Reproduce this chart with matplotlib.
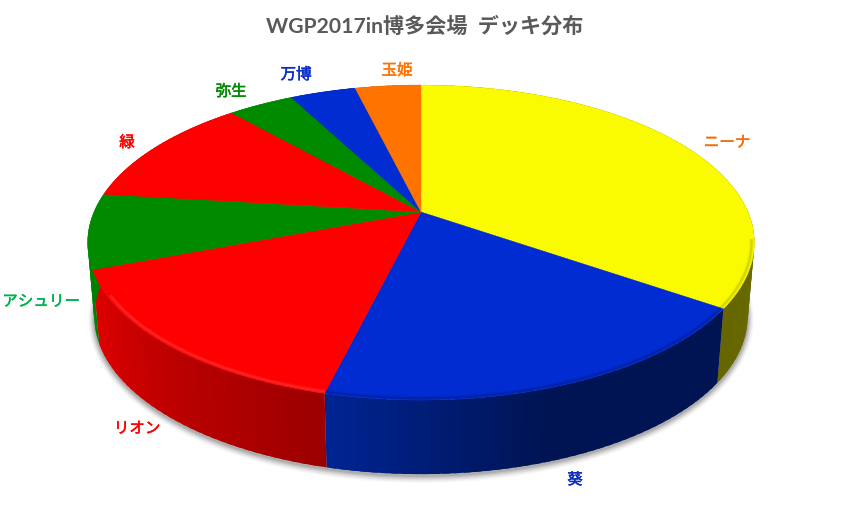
import numpy as np
import matplotlib
matplotlib.use("Agg")
import matplotlib.pyplot as plt
import matplotlib.patheffects as pe
from matplotlib.patches import Polygon

# --- data ---
labels = ["ニーナ", "葵", "リオン", "アシュリー", "緑", "弥生", "万博", "玉姫"]
counts = [9, 5, 4, 2, 3, 1, 1, 1]
title = "WGP2017in博多会場  デッキ分布"

# --- styles ---
top_colors = ["#FAFA00", "#002CD2", "#FF0000", "#008A00", "#FF0000", "#008A00", "#002CD2", "#FF7300"]
wall_from = [(0.46, 0.46, 0.0), (0.0, 0.08, 0.33), (0.61, 0.0, 0.0), (0.0, 0.50, 0.0),
             (0.85, 0.0, 0.0), (0.0, 0.5, 0.0), (0.0, 0.1, 0.5), (0.7, 0.35, 0.0)]
wall_to = [(0.40, 0.40, 0.0), (0.0, 0.14, 0.58), (0.88, 0.0, 0.0), (0.0, 0.50, 0.0),
           (0.85, 0.0, 0.0), (0.0, 0.5, 0.0), (0.0, 0.1, 0.5), (0.7, 0.35, 0.0)]
rim_colors = ["#A8A800", "#001A80", "#FF4A4A", "#00A000", "#FF3030", "#00A000", "#0033DD", "#FF8000"]
label_colors = ["#F07010", "#0A2DB8", "#FF0000", "#00B050", "#FF0000", "#008A00", "#0A2DC8", "#FF7300"]
label_xy = [(727, 143), (575, 480), (137, 429), (41, 302), (127, 143), (231, 92), (296, 75), (397, 71)]
plt.rcParams["font.family"] = ["Lato", "Noto Sans CJK JP", "DejaVu Sans"]

CX, CY, A, B, K = 421.0, 212.0, 327.0, 151.6, 0.194
DEPTH, SX = 74.0, 0.98


def project(deg, r=1.0, bottom=False, grow=0.0, dx=0.0, dy=0.0):
    t = np.radians(deg)
    X, Y = r * np.sin(t), r * np.cos(t)
    w = 1 + K * Y
    ax_ = A * (SX if bottom else 1.0) + grow
    by = B + grow
    return (CX + dx + ax_ * X / w,
            CY + dy + (DEPTH if bottom else 0.0) - by * Y / w)


fig = plt.figure(figsize=(8.5, 5.25), dpi=100, facecolor="white")
ax = fig.add_axes([0, 0, 1, 1])
ax.set_xlim(0, 850)
ax.set_ylim(525, 0)
ax.axis("off")

edges = np.cumsum([0] + counts) / sum(counts) * 360.0

# soft shadow under the pie
circle = np.linspace(0, 360, 361)
for g, alpha in zip(np.arange(6.0, 0.0, -1.0), [0.03, 0.05, 0.07, 0.09, 0.12, 0.15]):
    sx, sy = project(circle, bottom=True, grow=g, dy=1.5)
    ax.add_patch(Polygon(np.c_[sx, sy], closed=True, fc="#404040", ec="none", alpha=alpha, zorder=1))

# side walls, shaded step by step along the rim; each step overlaps the next
for i in range(len(counts)):
    a0, a1 = edges[i], edges[i + 1]
    steps = np.linspace(a0, a1, max(int((a1 - a0) / 1.5), 2) + 1)
    c0, c1 = np.array(wall_from[i]), np.array(wall_to[i])
    for s0, s1 in zip(steps[:-1], steps[1:]):
        u = ((s0 + s1) / 2 - a0) / (a1 - a0)
        if i == 1:  # the blue wall stays dark until its left part
            u = max(0.0, (u - 0.55) / 0.45)
        col = tuple(c0 + (c1 - c0) * u)
        end = a1 if s1 >= a1 else s1 + 1.0
        arc = np.linspace(s0, end, 5)
        tx, ty = project(arc)
        bx, by = project(arc[::-1], bottom=True)
        ax.add_patch(Polygon(np.c_[np.r_[tx, bx], np.r_[ty, by]], closed=True,
                             fc=col, ec="none", zorder=2 + 0.001 * i))

# top faces
for i in range(len(counts)):
    arc = np.linspace(edges[i], edges[i + 1], 120)
    x, y = project(arc)
    pts = np.vstack([[CX, CY], np.c_[x, y]])
    ax.add_patch(Polygon(pts, closed=True, fc=top_colors[i], ec=top_colors[i], lw=0.3, zorder=3))

# rim bevel, only on the near side of the disc
for i in range(len(counts)):
    lo, hi = max(edges[i], 100.0), min(edges[i + 1], 240.0)
    if hi <= lo:
        continue
    arc = np.linspace(lo, hi, 120)
    x, y = project(arc, r=0.992)
    ax.plot(x, y, color=rim_colors[i], lw=3.0, alpha=0.18, zorder=4, solid_capstyle="butt")
    ax.plot(x, y, color=rim_colors[i], lw=1.3, alpha=0.35, zorder=4, solid_capstyle="butt")

# text
ax.text(425, 27, title, ha="center", va="center", fontsize=15.2, fontweight="bold", color="#595959", zorder=5)
for name, col, (lx, ly) in zip(labels, label_colors, label_xy):
    ax.text(lx, ly, name, ha="center", va="center", fontsize=11.2, color=col, zorder=5,
            path_effects=[pe.withStroke(linewidth=0.35, foreground=col)])

fig.savefig("out.png", dpi=100)
